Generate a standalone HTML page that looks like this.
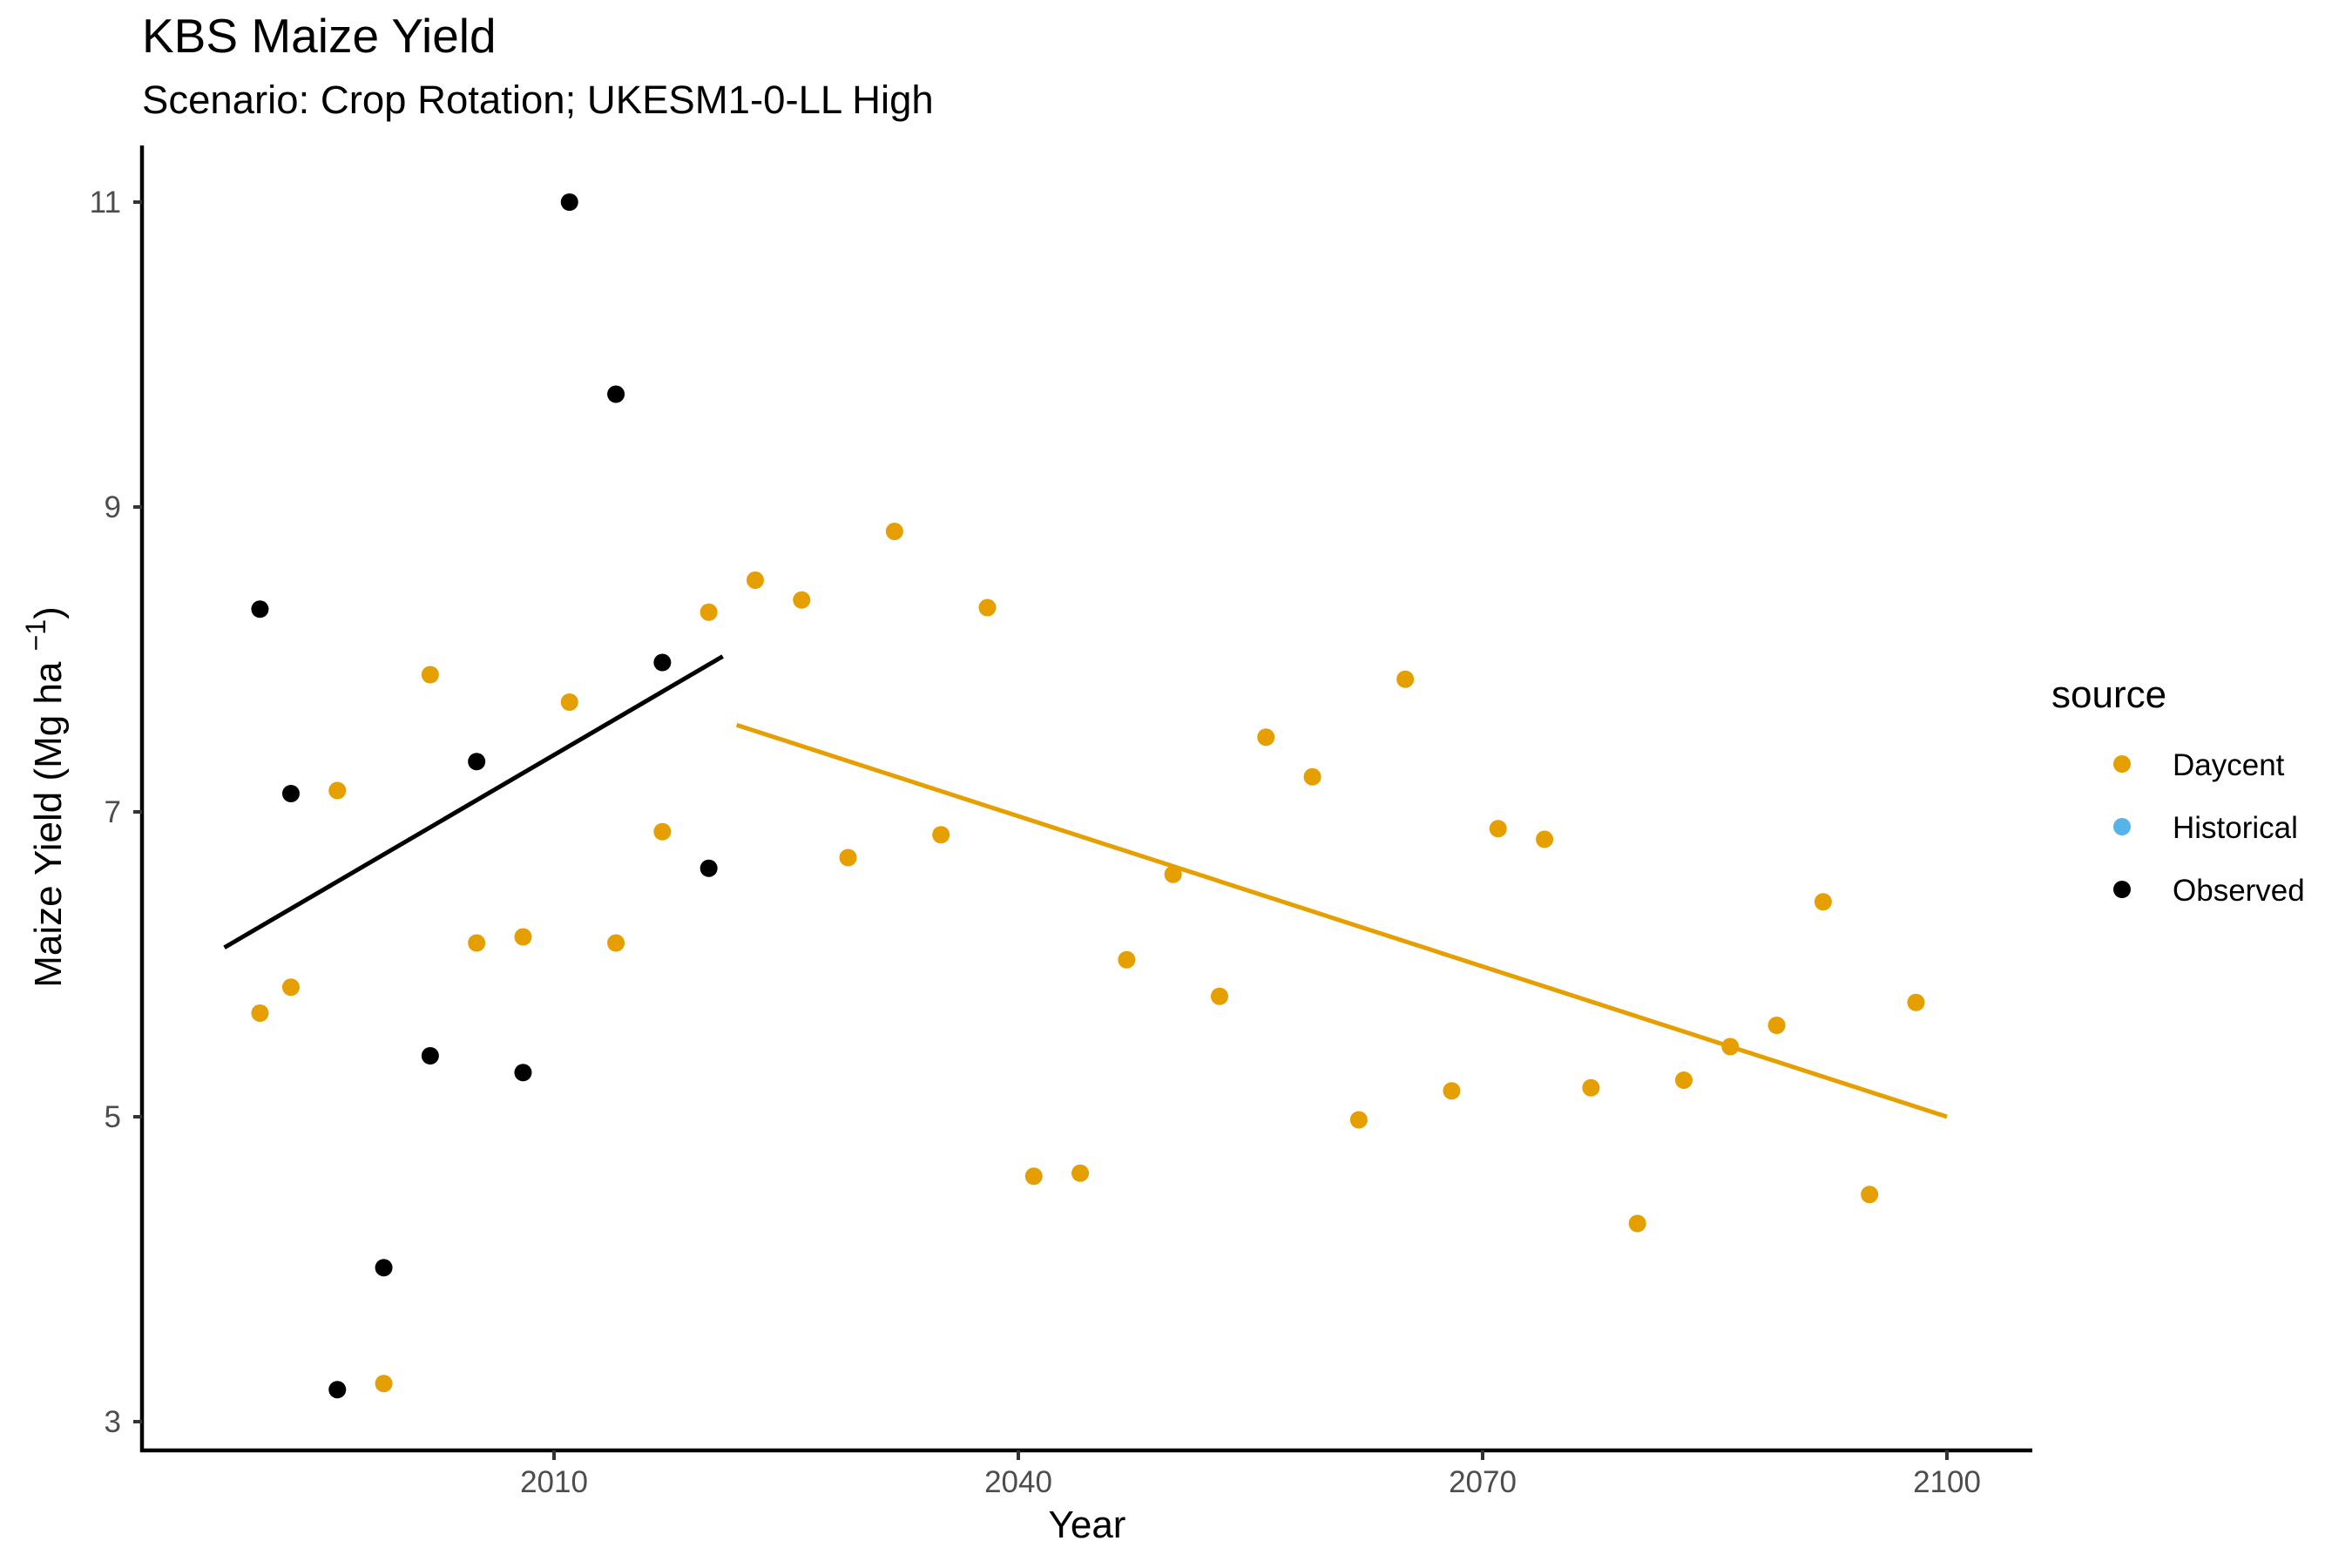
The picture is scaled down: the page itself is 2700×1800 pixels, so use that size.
<!DOCTYPE html>
<html><head><meta charset="utf-8"><style>
html,body{margin:0;padding:0;background:#fff;}
svg{display:block;font-family:"Liberation Sans",Arial,sans-serif;}
</style></head><body>
<svg id="chart" width="2700" height="1800" viewBox="0 0 2700 1800">
<text x="163" y="60" font-size="55" fill="#000">KBS Maize Yield</text>
<text x="163" y="130" font-size="45.5" fill="#000">Scenario: Crop Rotation; UKESM1-0-LL High</text>
<g id="plot"></g>
<text transform="translate(70,915) rotate(-90)" text-anchor="middle" font-size="44" fill="#000">Maize Yield (Mg ha <tspan dy="-18" font-size="32">−1</tspan><tspan dy="18">)</tspan></text>
<text x="1248" y="1765" text-anchor="middle" font-size="44" fill="#000">Year</text>
<g>
<text x="2355" y="812" font-size="44" fill="#000">source</text>
<g><circle cx="2436" cy="877" r="10" fill="#E69F00"/><text x="2494" y="890" font-size="35">Daycent</text></g>
<g><circle cx="2436" cy="949" r="10" fill="#56B4E9"/><text x="2494" y="962" font-size="35">Historical</text></g>
<g><circle cx="2436" cy="1021" r="10" fill="#000"/><text x="2494" y="1034" font-size="35">Observed</text></g>
</g>
</svg>
<script>
const obsYears = [1991,1993,1996,1999,2002,2005,2008,2011,2014,2017,2020];
const obsYield = [8.33,7.12,3.21,4.01,5.40,7.33,5.29,11.0,9.74,7.98,6.63];
const dayYears = [1991,1993,1996,1999,2002,2005,2008,2011,2014,2017,2020,2023,2026,2029,2032,2035,2038,2041,2044,2047,2050,2053,2056,2059,2062,2065,2068,2071,2074,2077,2080,2083,2086,2089,2092,2095,2098];
const dayYield = [5.68,5.85,7.14,3.25,7.90,6.14,6.18,7.72,6.14,6.87,8.31,8.52,8.39,6.70,8.84,6.85,8.34,4.61,4.63,6.03,6.59,5.79,7.49,7.23,4.98,7.87,5.17,6.89,6.82,5.19,4.30,5.24,5.46,5.60,6.41,4.49,5.75];
const obsTrendX = [1988.7,2020.9];
const obsTrendY = [6.11,8.02];
const dayTrendX = [2021.8,2100];
const dayTrendY = [7.57,5.0];
const xTicks = [2010,2040,2070,2100];
const yTicks = [3,5,7,9,11];

const NS = "http://www.w3.org/2000/svg";
const xs = v => 636 + (v - 2010) * (2235 - 636) / 90;
const ys = v => 232 + (11 - v) * 175;
const g = document.getElementById('plot');
function mk(tag, attrs){const e=document.createElementNS(NS,tag);for(const k in attrs)e.setAttribute(k,attrs[k]);g.appendChild(e);return e;}

let ax = mk('line',{x1:163,y1:167,x2:163,y2:1667,stroke:'#000','stroke-width':4.5});


ax = mk('line',{x1:161,y1:1665,x2:2333,y2:1665,stroke:'#000','stroke-width':4.5});



yTicks.forEach(t=>{
  const l = mk('line',{x1:153,y1:ys(t),x2:163,y2:ys(t),stroke:'#333','stroke-width':4});
  
  
  const tx = mk('text',{x:139,y:ys(t)+12,'text-anchor':'end','font-size':35,fill:'#4d4d4d'});
  tx.textContent = t;
  
  
});
xTicks.forEach(t=>{
  const l = mk('line',{x1:xs(t),y1:1665,x2:xs(t),y2:1676,stroke:'#333','stroke-width':4});
  
  
  const tx = mk('text',{x:xs(t),y:1713,'text-anchor':'middle','font-size':35,fill:'#4d4d4d'});
  tx.textContent = t;
  
  
});

dayYears.forEach((yr,i)=>{
  const c = mk('circle',{cx:xs(yr),cy:ys(dayYield[i]),r:10,fill:'#E69F00'});
  
  
});
obsYears.forEach((yr,i)=>{
  const c = mk('circle',{cx:xs(yr),cy:ys(obsYield[i]),r:10,fill:'#000'});
  
  
});
let tl = mk('line',{x1:xs(obsTrendX[0]),y1:ys(obsTrendY[0]),x2:xs(obsTrendX[1]),y2:ys(obsTrendY[1]),stroke:'#000','stroke-width':5});


tl = mk('line',{x1:xs(dayTrendX[0]),y1:ys(dayTrendY[0]),x2:xs(dayTrendX[1]),y2:ys(dayTrendY[1]),stroke:'#E69F00','stroke-width':5});


</script>
</body></html>
